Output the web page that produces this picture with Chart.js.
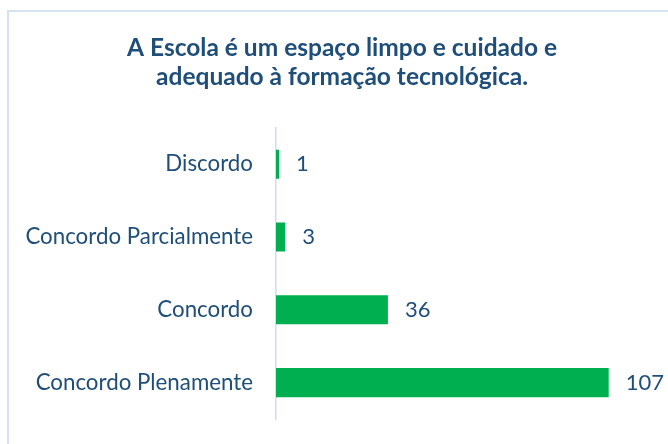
<!DOCTYPE html>
<html>
<head>
<meta charset="utf-8">
<script src="https://cdn.jsdelivr.net/npm/chart.js@4.4.1/dist/chart.umd.min.js"></script>
<style>
  html, body { margin: 0; padding: 0; background: #fff; }
  #wrap { position: relative; width: 668px; height: 444px; overflow: hidden; }
  #frame { position: absolute; left: 7px; top: 10px; width: 700px; height: 500px; border: 2px solid #d5e2f3; box-sizing: border-box; }
  canvas { position: absolute; left: 0; top: 0; }
</style>
</head>
<body>
<div id="wrap">
  <div id="frame"></div>
  <canvas id="chart" width="684" height="444"></canvas>
</div>
<script>
// ── Dados ────────────────────────────────────────────
const categorias = ['Discordo', 'Concordo Parcialmente', 'Concordo', 'Concordo Plenamente'];
const respostas = [1, 3, 36, 107];
const titulo = ['A Escola é um espaço limpo e cuidado e', 'adequado à formação tecnológica.'];

const AZUL = '#1f4e79';
const VERDE = '#00b050';
const FONTE = 'Lato, "Open Sans", sans-serif';

// ── Rótulos de valor ─────────────────────────────────
const rotulos = {
    id: 'rotulos',
    afterDatasetsDraw(chart) {
        const ctx = chart.ctx;
        const meta = chart.getDatasetMeta(0);
        ctx.save();
        ctx.fillStyle = AZUL;
        ctx.font = '22px ' + FONTE;
        ctx.textAlign = 'left';
        ctx.textBaseline = 'middle';
        meta.data.forEach((bar, i) => {
            ctx.fillText(String(chart.data.datasets[0].data[i]), bar.x + 17, bar.y);
        });
        ctx.restore();
    }
};

new Chart(document.getElementById('chart'), {
    type: 'bar',
    data: {
        labels: categorias,
        datasets: [{
            data: respostas,
            backgroundColor: VERDE,
            borderWidth: 0,
            categoryPercentage: 1,
            barPercentage: 0.4
        }]
    },
    options: {
        indexAxis: 'y',
        responsive: false,
        animation: false,
        layout: { padding: { left: 10, right: 10, top: 0, bottom: 25 } },
        plugins: {
            legend: { display: false },
            tooltip: { enabled: false },
            title: {
                display: true,
                text: titulo,
                color: AZUL,
                font: { family: FONTE, size: 24.5, weight: 'bold', lineHeight: 1.16 },
                padding: { top: 34, bottom: 37 }
            }
        },
        scales: {
            x: {
                min: 0, max: 128,
                display: false,
                grid: { display: false }
            },
            y: {
                afterFit: s => { s.width = 266; s.paddingTop = 0; s.paddingBottom = 0; },
                grid: { display: false, drawTicks: false },
                border: { display: true, color: '#d0dcee', width: 1.5 },
                ticks: { color: AZUL, padding: 23, font: { family: FONTE, size: 22.3 } }
            }
        }
    },
    plugins: [rotulos]
});
</script>
</body>
</html>
